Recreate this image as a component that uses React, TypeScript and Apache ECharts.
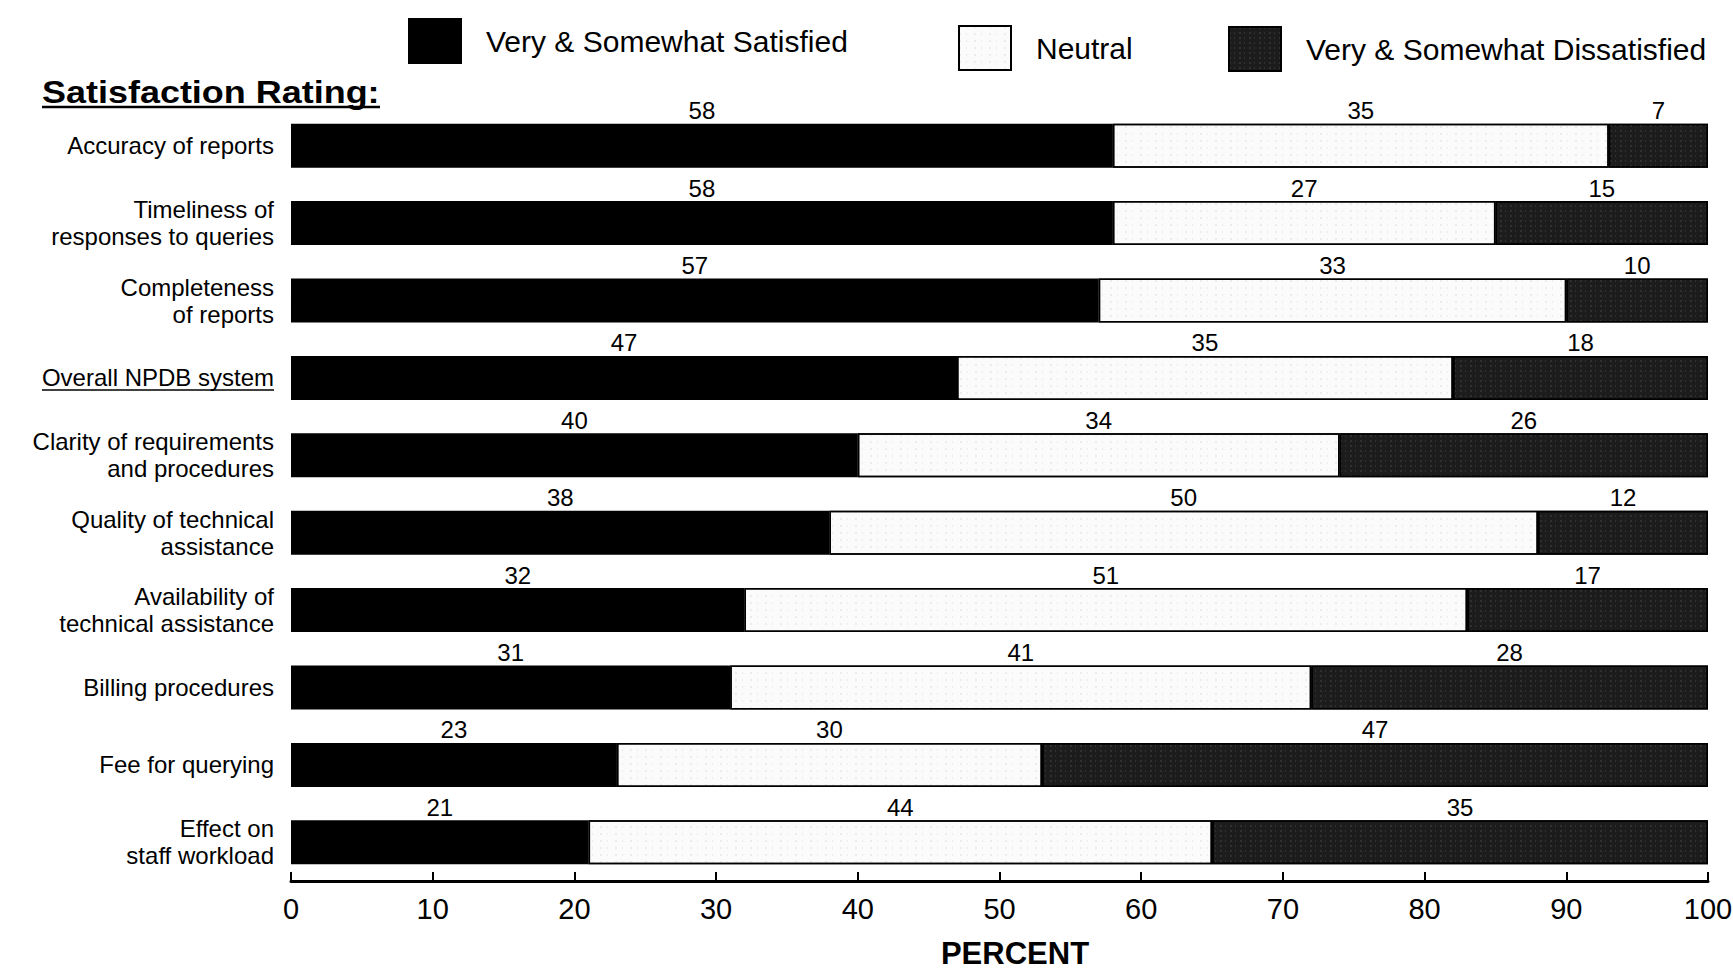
import React, { useEffect, useRef } from "react";
import * as echarts from "echarts";

const categories = [
  "Accuracy of reports",
  "Timeliness of\nresponses to queries",
  "Completeness\nof reports",
  "Overall NPDB system",
  "Clarity of requirements\nand procedures",
  "Quality of technical\nassistance",
  "Availability of\ntechnical assistance",
  "Billing procedures",
  "Fee for querying",
  "Effect on\nstaff workload",
];
const satisfied = [58, 58, 57, 47, 40, 38, 32, 31, 23, 21];
const neutral = [35, 27, 33, 35, 34, 50, 51, 41, 30, 44];
const dissatisfied = [7, 15, 10, 18, 26, 12, 17, 28, 47, 35];
const seriesNames = ["Very & Somewhat Satisfied", "Neutral", "Very & Somewhat Dissatisfied"];
const xTicks = [0, 10, 20, 30, 40, 50, 60, 70, 80, 90, 100];

const FONT = "'Liberation Sans', Arial, Helvetica, sans-serif";
const Y_LABEL_SIZE = 24;

export default function App() {
  const ref = useRef<HTMLDivElement>(null);
  useEffect(() => {
    if (!ref.current) return;
    const chart = echarts.init(ref.current, null, { renderer: "svg" });
    const label = {
      show: true,
      position: "top" as const,
      distance: 1,
      color: "#000",
      fontSize: 24,
      fontFamily: FONT,
    };
    const legendBase = {
      icon: "rect",
      itemWidth: 52,
      itemHeight: 44,
      textStyle: { fontSize: 30, color: "#000", fontFamily: FONT, padding: [0, 0, 0, 20] },
    };
    const graphicBase: any[] = [
      {
        type: "text",
        left: 42,
        top: 77,
        scaleX: 1.16,
        style: {
          text: "Satisfaction Rating:",
          fontSize: 31,
          fontWeight: "bold",
          fill: "#000",
          fontFamily: FONT,
        },
      },
      {
        type: "line",
        shape: { x1: 42, y1: 107, x2: 380, y2: 107 },
        style: { stroke: "#000", lineWidth: 2.5 },
      },
    ];
    const option: any = {
      animation: false,
      backgroundColor: "#fff",
      textStyle: { fontFamily: FONT, color: "#000" },
      legend: [
        { ...legendBase, left: 403, top: 13, data: [seriesNames[0]] },
        { ...legendBase, left: 953, top: 20, data: [seriesNames[1]] },
        { ...legendBase, left: 1223, top: 21, data: [seriesNames[2]] },
      ],
      grid: { left: 291, right: 25, top: 107, bottom: 93, outerBoundsMode: "none", containLabel: false },
      xAxis: {
        type: "value",
        min: 0,
        max: 100,
        interval: 10,
        name: "PERCENT",
        nameLocation: "middle",
        nameGap: 57,
        nameTextStyle: {
          fontSize: 31,
          fontWeight: "bold",
          color: "#000",
          fontFamily: FONT,
          padding: [0, 0, 0, 31],
        },
        axisLine: { show: true, lineStyle: { color: "#000", width: 3 } },
        axisTick: { show: true, inside: true, length: 9, lineStyle: { color: "#000", width: 2 } },
        axisLabel: {
          fontSize: 29,
          color: "#000",
          margin: 13,
          fontFamily: FONT,
          formatter: (v: number) => (xTicks.includes(v) ? String(v) : ""),
        },
        splitLine: { show: false },
      },
      yAxis: {
        type: "category",
        data: categories,
        inverse: true,
        axisLine: { show: false },
        axisTick: { show: false },
        axisLabel: {
          fontSize: Y_LABEL_SIZE,
          lineHeight: 27,
          color: "#000",
          margin: 17,
          align: "right",
          fontFamily: FONT,
        },
      },
      series: [
        {
          name: seriesNames[0],
          type: "bar",
          stack: "total",
          barWidth: 44,
          data: satisfied,
          label,
          itemStyle: { color: "#000", borderColor: "#000", borderWidth: 1.5 },
        },
        {
          name: seriesNames[1],
          type: "bar",
          stack: "total",
          barWidth: 44,
          data: neutral,
          label,
          itemStyle: {
            color: "#fbfbfb",
            borderColor: "#000",
            borderWidth: 1.5,
            decal: {
              symbol: "rect",
              symbolSize: 0.5,
              color: "rgba(90,90,90,0.35)",
              dashArrayX: [[2, 5, 1, 7]],
              dashArrayY: [2, 5],
              rotation: 0,
            },
          },
        },
        {
          name: seriesNames[2],
          type: "bar",
          stack: "total",
          barWidth: 44,
          data: dissatisfied,
          label,
          itemStyle: {
            color: "#1c1c1c",
            borderColor: "#000",
            borderWidth: 1.5,
            decal: {
              symbol: "rect",
              symbolSize: 0.6,
              color: "rgba(255,255,255,0.28)",
              dashArrayX: [[2, 3, 1, 4]],
              dashArrayY: [2, 3],
              rotation: 0,
            },
          },
        },
      ],
      graphic: graphicBase,
    };
    chart.setOption(option);

    // underline the "Overall NPDB system" label
    const idx = categories.indexOf("Overall NPDB system");
    const yPix = chart.convertToPixel({ yAxisIndex: 0 }, idx) as number;
    const ctx = document.createElement("canvas").getContext("2d");
    let w = 250;
    if (ctx) {
      ctx.font = `${Y_LABEL_SIZE}px ${FONT}`;
      w = ctx.measureText(categories[idx]).width;
    }
    const right = 291 - 17;
    chart.setOption({
      graphic: [
        ...graphicBase,
        {
          type: "line",
          shape: { x1: right - w, y1: yPix + 12, x2: right, y2: yPix + 12 },
          style: { stroke: "#000", lineWidth: 1.5 },
        },
      ],
    });

    return () => chart.dispose();
  }, []);
  return (
    <div
      ref={ref}
      style={{ position: "fixed", left: 0, top: 0, width: 1733, height: 974, background: "#fff" }}
    />
  );
}
